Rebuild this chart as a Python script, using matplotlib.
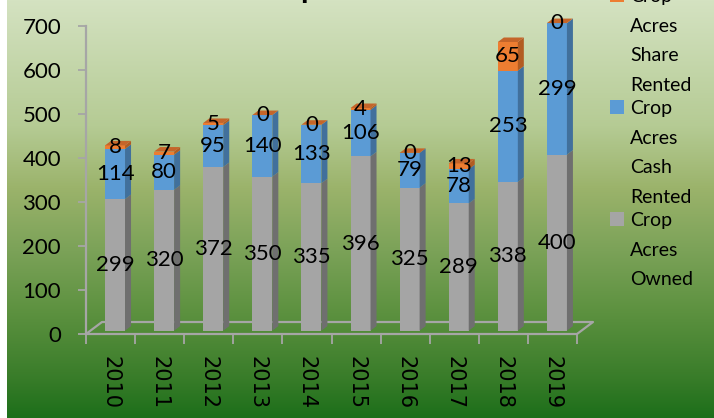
import numpy as np
import matplotlib.pyplot as plt
from matplotlib.colors import LinearSegmentedColormap
from matplotlib.patches import Polygon, Rectangle

# chart data
years = ['2010', '2011', '2012', '2013', '2014', '2015', '2016', '2017', '2018', '2019']
owned = [299, 320, 372, 350, 335, 396, 325, 289, 338, 400]
cash_rented = [114, 80, 95, 140, 133, 106, 79, 78, 253, 299]
share_rented = [8, 7, 5, 0, 0, 4, 0, 13, 65, 0]
series_names = ['Crop Acres Owned', 'Crop Acres Cash Rented', 'Crop Acres Share Rented']
y_ticks = [0, 100, 200, 300, 400, 500, 600, 700]

front_colors = ['#a5a5a5', '#5b9bd5', '#ed7d31']
side_colors = ['#6f6f6f', '#41709c', '#b25c22']
top_color = '#c5652a'

W, H = 714, 418
fig = plt.figure(figsize=(W / 100, H / 100), dpi=100)

# green gradient background
cmap = LinearSegmentedColormap.from_list('bg', [
    (0.0, '#d4e2c1'), (0.3, '#b5cb94'), (0.45, '#9bb36b'),
    (0.6, '#7ba258'), (0.75, '#5c913f'), (0.9, '#3a7d2a'), (1.0, '#1d6f1a')])
bg = fig.add_axes([7 / W, 0, 1 - 7 / W, 1])
bg.imshow(np.linspace(0, 1, 256).reshape(-1, 1), aspect='auto', cmap=cmap, extent=[0, 1, 0, 1])
bg.axis('off')

# plot area (front plane of the 3d box)
left, right, bottom, top = 86, 577, 334, 26
ax = fig.add_axes([left / W, (H - bottom) / H, (right - left) / W, (bottom - top) / H])
ax.set_xlim(0, 10)
ax.set_ylim(0, 700)
ax.patch.set_alpha(0)

px_x = (right - left) / 10.0
px_y = (bottom - top) / 700.0
DX = 16 / px_x          # floor depth in data units
DY = 12 / px_y
f0, fd = 0.28, 0.375    # bar front position and depth as fraction of floor depth
bw = 20 / px_x
sdx, sdy = fd * DX, fd * DY

# floor
ax.plot([0, 10, 10 + DX, DX, 0], [0, 0, DY, DY, 0], color='#a6a6a6', lw=1.6,
        clip_on=False, zorder=1)

x = np.arange(len(years)) + 0.5 + f0 * DX
base = np.zeros(len(years)) + f0 * DY
for k, vals in enumerate([owned, cash_rented, share_rented]):
    vals = np.array(vals, dtype=float)
    ax.bar(x, vals, bw, bottom=base, color=front_colors[k], zorder=2, clip_on=False)
    for i in range(len(years)):
        xr = x[i] + bw / 2
        y0, y1 = base[i], base[i] + vals[i]
        ax.add_patch(Polygon([(xr, y0), (xr + sdx, y0 + sdy), (xr + sdx, y1 + sdy), (xr, y1)],
                             closed=True, fc=side_colors[k], ec='none', zorder=2, clip_on=False))
        ax.text(x[i], (y0 + y1) / 2, str(int(vals[i])), ha='center', va='center',
                fontsize=16, family='Lato', zorder=5)
    base = base + vals

# top faces
for i in range(len(years)):
    xl = x[i] - bw / 2
    t = base[i]
    ax.add_patch(Polygon([(xl, t), (xl + bw, t), (xl + bw + sdx, t + sdy), (xl + sdx, t + sdy)],
                         closed=True, fc=top_color, ec='none', zorder=2, clip_on=False))

for s in ['top', 'right', 'bottom']:
    ax.spines[s].set_visible(False)
ax.spines['left'].set_color('#a6a6a6')
ax.spines['left'].set_linewidth(1.6)

ax.set_yticks(y_ticks)
ax.tick_params(axis='y', length=6, width=1.3, color='#a6a6a6', pad=12, labelsize=16)
for lbl in ax.get_yticklabels():
    lbl.set_family('Lato')

ax.set_xticks(np.arange(0, 11))
ax.set_xticklabels([])
ax.tick_params(axis='x', which='major', length=7, width=1.3, color='#a6a6a6')
ax.set_xticks(np.arange(len(years)) + 0.5, minor=True)
ax.set_xticklabels(years, minor=True, rotation=270, fontsize=15, family='DejaVu Sans')
ax.tick_params(axis='x', which='minor', length=0, pad=16)

# legend (words stacked as in the original)
entries = list(zip(series_names, front_colors))[::-1]
for k, (name, color) in enumerate(entries):
    y0 = -5 + 112 * k
    fig.patches.append(Rectangle((610 / W, 1 - (y0 + 7) / H), 14 / W, 14 / H,
                                 transform=fig.transFigure, fc=color, ec='none'))
    for j, word in enumerate(name.split()):
        fig.text(630 / W, 1 - (y0 + 29.7 * j) / H, word, va='center_baseline',
                 fontsize=14, family='Lato')

# title, mostly cut off above the canvas
fig.text(252 / W, 1 + 2 / H, 'Crop Acres', fontsize=22, fontweight='bold',
         family='Lato', va='baseline')

fig.savefig('out.png', dpi=100)
